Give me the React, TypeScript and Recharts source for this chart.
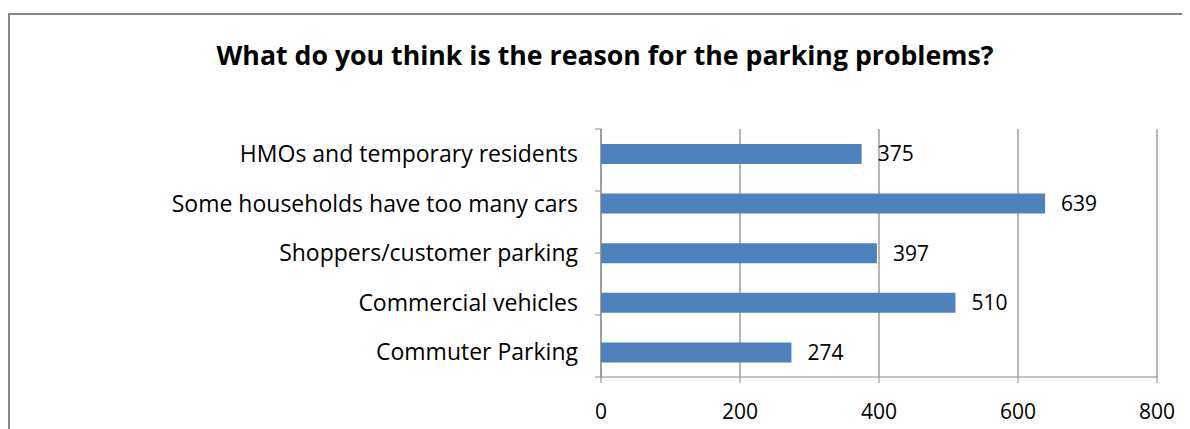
import { Bar, BarChart, CartesianGrid, LabelList, XAxis, YAxis } from "recharts";

const reasons = [
  "HMOs and temporary residents",
  "Some households have too many cars",
  "Shoppers/customer parking",
  "Commercial vehicles",
  "Commuter Parking",
];
const responses = [375, 639, 397, 510, 274];
const xTicks = [0, 200, 400, 600, 800];
const boundaryTicks = [0, 1, 2, 3, 4, 5];

const data = reasons.map((reason, i) => ({ reason, count: responses[i] }));

const FONT = "'Open Sans', Lato, sans-serif";
const GRAY = "#868686";

export default function App() {
  return (
    <div
      style={{
        position: "relative",
        marginTop: 5,
        width: 1182,
        height: 416,
        borderLeft: `2px solid ${GRAY}`,
        borderTop: `2px solid ${GRAY}`,
        fontFamily: FONT,
        overflow: "hidden",
      }}
    >
      <div
        style={{
          position: "absolute",
          left: 0,
          top: 21,
          width: 1190,
          textAlign: "center",
          fontSize: 26.7,
          fontWeight: 700,
          color: "#000",
        }}
      >
        What do you think is the reason for the parking problems?
      </div>
      <BarChart
        width={1180}
        height={414}
        data={data}
        layout="vertical"
        margin={{ top: 114, right: 33, bottom: 12, left: 0 }}
        barCategoryGap="30%"
      >
        <CartesianGrid horizontal={false} stroke={GRAY} strokeWidth={1.2} />
        <XAxis
          type="number"
          domain={[0, 800]}
          ticks={xTicks}
          interval={0}
          height={40}
          tickSize={6}
          tickMargin={21}
          stroke={GRAY}
          tick={{ fill: "#000", fontSize: 21, fontFamily: FONT }}
        />
        <YAxis
          yAxisId="bounds"
          type="number"
          domain={[0, 5]}
          ticks={boundaryTicks}
          interval={0}
          width={1}
          tickSize={6}
          tickFormatter={() => ""}
          stroke={GRAY}
        />
        <YAxis
          yAxisId="cat"
          type="category"
          dataKey="reason"
          width={590}
          tickLine={false}
          axisLine={false}
          tickMargin={16}
          tick={{ fill: "#000", fontSize: 23, fontFamily: FONT }}
        />
        <Bar yAxisId="cat" dataKey="count" fill="#4F81BD" barSize={20} isAnimationActive={false}>
          <LabelList
            dataKey="count"
            position="right"
            offset={16}
            fill="#000"
            fontSize={21}
            fontFamily={FONT}
          />
        </Bar>
      </BarChart>
    </div>
  );
}
